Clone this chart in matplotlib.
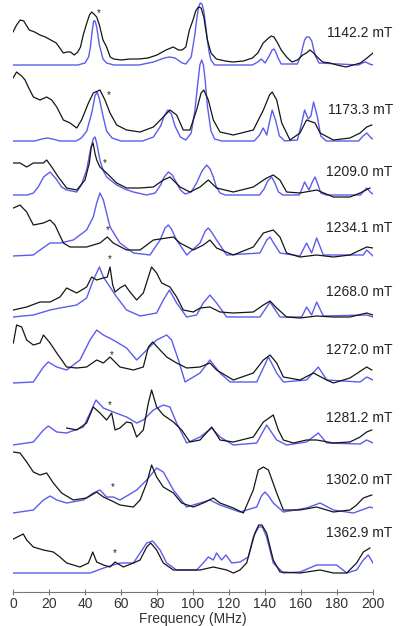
"""
Stacked ENDOR spectra: experiment (black) vs simulation (blue)
"""

import matplotlib.pyplot as plt

plt.rcParams['font.family'] = ['Liberation Sans', 'DejaVu Sans']

# magnetic fields (mT), top to bottom
fields = ['1142.2', '1173.3', '1209.0', '1234.1', '1268.0',
          '1272.0', '1281.2', '1302.0', '1362.9']

# (frequency MHz, intensity)
exp_1142 = [(0, 33), (2, 40), (4, 45), (6, 44), (9, 35), (12, 33), (15, 30), (18, 28), (21, 25),
            (24, 22), (26, 17), (28, 12), (30, 13), (32, 13), (34, 10), (36, 13), (37.5, 18),
            (39, 30), (41, 42), (42.5, 50), (43.7, 53), (45, 51), (46.5, 48), (48, 40), (50, 25),
            (52, 18), (54, 8), (56, 6), (60, 5), (65, 6), (70, 6), (75, 7), (80, 10), (85, 15),
            (89, 18), (92, 15), (94, 15), (96, 18), (98, 35), (100, 45), (101.5, 54), (103, 58),
            (104.5, 57), (106, 48), (108, 25), (110, 12), (113, 6), (118, 4), (122, 3), (128, 4),
            (133, 7), (136, 12), (139, 22), (142, 27), (143.5, 29), (145, 28), (147, 22), (149, 15),
            (152, 8), (155, 3), (158, 5), (161, 10), (163, 12), (165, 15), (167, 12), (169, 8),
            (172, 3), (176, 2), (180, 0), (185, -2), (189, 0), (193, 2), (196, 6), (200, 12)]
sim_1142 = [(0, 0), (36, 0), (40, 2), (42, 8), (43, 18), (44, 34), (44.8, 44), (45.6, 44),
            (46.5, 38), (48, 20), (50, 6), (52, 2), (56, 0), (70, 0), (78, 3), (84, 7), (87, 8),
            (90, 7), (94, 2), (96, 1), (99, 8), (101, 30), (102, 45), (103, 57), (104, 62),
            (105, 61), (106, 54), (107, 40), (108, 25), (109, 12), (110, 5), (112, 0), (133, 0),
            (136, 3), (138, 6), (140, 2), (142, 8), (144, 15), (145, 16), (146, 13), (147, 8),
            (149, 1), (158, 1), (160, 10), (161, 18), (162, 25), (163, 28), (164.5, 28),
            (166, 24), (167, 16), (168, 9), (170, 2), (192, 0), (194, 2), (196, 3), (198, 1),
            (200, 0)]

exp_1173 = [(0, 63), (2, 69), (4.8, 65), (6.7, 61), (8.5, 54), (11.3, 44), (15, 41), (18.7, 44),
            (21.5, 41), (24.3, 34), (28, 21), (31.7, 18), (35.4, 13), (38.1, 21), (41.9, 38),
            (44.6, 48), (48.3, 51), (51.1, 41), (53.9, 28), (57.6, 16), (63.1, 11), (70.6, 9),
            (78, 14), (83.5, 24), (87.2, 31), (90.9, 26), (94.6, 11), (98.3, 11), (102, 31),
            (104.5, 48), (106, 51), (108.5, 41), (111.3, 21), (115, 9), (122.4, 6), (133.5, 11),
            (139.1, 31), (142.5, 46), (144, 49), (146.5, 41), (149.3, 18), (153.9, 1), (159.4, 8),
            (163.1, 21), (167.8, 18), (170.6, 8), (178, 1), (187.2, 3), (192.8, 8), (196.5, 14),
            (199.3, 16)]
sim_1173 = [(0, 0), (12, 0), (16, 2), (19, 3), (22, 2), (26, 0), (35, 0), (38, 3), (41, 10),
            (44, 30), (45.5, 45), (46.8, 49), (48, 42), (50, 25), (52, 10), (55, 3), (60, 0),
            (72, 0), (78, 4), (82, 15), (84, 25), (86, 31), (88, 27), (90, 15), (93, 4), (96, 1),
            (99, 8), (101, 30), (102.5, 55), (103.8, 76), (104.8, 81), (105.8, 76), (106.8, 60),
            (108, 35), (110, 10), (112, 2), (116, 0), (134, 0), (137, 6), (139, 13), (141, 6),
            (142, 15), (144, 31), (146, 20), (148, 5), (151, 0), (158, 1), (160, 15), (162, 31),
            (164, 22), (165.5, 25), (167, 39), (169, 25), (171, 5), (174, 0), (192, 0),
            (194.5, 5), (196.5, 8), (199, 3), (200, 2)]

exp_1209 = [(0.2, 32), (3.9, 32), (7.6, 28), (11.3, 32), (16.9, 32), (18.7, 35), (21.5, 28),
            (25.2, 18), (29.8, 7), (35.4, 5), (40, 15), (42.4, 32), (43.5, 48), (44.5, 52),
            (45.5, 42), (46.5, 35), (48.3, 28), (52, 22), (57.6, 12), (63.1, 7), (70.6, 7),
            (78, 8), (83.5, 15), (87.2, 18), (92.8, 8), (98.3, 3), (103.9, 8), (108.5, 15),
            (113.1, 7), (122.4, 3), (133.5, 8), (140.9, 17), (144.6, 20), (148.3, 15), (152, 3),
            (159.4, 2), (168.7, 5), (178, -2), (187.2, -2), (192.8, 2), (198.3, 7)]
sim_1209 = [(0, 0), (8, 0), (11.3, 2), (14, 8), (17, 18), (20.6, 23), (24, 16), (27, 8),
            (29.8, 5), (35.4, 3), (38, 10), (40.9, 25), (43, 45), (44.5, 56), (45.6, 58),
            (46.5, 52), (48.3, 35), (50, 25), (52, 18), (57.6, 10), (62, 6), (66.9, 3), (74.3, 0),
            (79, 2), (82, 10), (84, 18), (86.3, 23), (88.5, 20), (90.9, 12), (93, 5), (95.6, 1),
            (99, 3), (102, 12), (105, 24), (107.6, 30), (109.5, 26), (111.3, 18), (113, 8),
            (115, 2), (118, 0), (137, 0), (139.5, 6), (141.5, 14), (143.7, 18), (145.5, 12),
            (147.5, 3), (150, 0), (159, 0), (160.5, 6), (162, 13), (163.5, 8), (164.5, 5),
            (166, 12), (167.8, 18), (169.5, 10), (171, 2), (174, 0), (193, 0), (195, 4),
            (196.5, 7), (198.5, 3), (200, 1)]

exp_1234 = [(0.2, 48), (3.9, 51), (7.6, 44), (11.3, 31), (16.9, 33), (20.6, 36), (23.3, 31),
            (28, 13), (31.7, 9), (40.9, 9), (48.3, 13), (52.4, 19), (55.7, 13), (63.1, 6),
            (70.6, 6), (78, 16), (85.4, 18), (89.1, 19), (92.8, 13), (100.2, 6), (105.7, 11),
            (109.4, 16), (113.1, 8), (122.4, 1), (133.5, 9), (139.1, 23), (144.6, 26), (148.3, 19),
            (152, 3), (159.4, -1), (168.7, 1), (178, -1), (187.2, 1), (196.5, 9), (200, 8)]
sim_1234 = [(0, 0), (11.3, 1), (15, 6), (20.6, 13), (26.1, 13), (33.5, 16), (40.9, 26),
            (44.6, 39), (46.5, 53), (48.3, 63), (50.2, 56), (53.9, 29), (59.4, 13), (66.9, 3),
            (76.1, 1), (81.7, 16), (84.5, 28), (86.3, 31), (88, 27), (90.9, 16), (96.5, 1),
            (103.9, 13), (106.8, 25), (108.5, 28), (110.3, 24), (113.1, 16), (118.7, 1),
            (137.2, 3), (141, 16), (142.8, 19), (144.8, 13), (148.3, 3), (159.4, 0), (163.1, 13),
            (165.9, 3), (168.7, 18), (172.4, 1), (194.6, 1), (196.5, 6), (200, 0)]

exp_1268 = [(0.2, 7), (7.6, 10), (15, 15), (20.6, 15), (26.1, 20), (29.8, 29), (35.4, 24),
            (40.9, 30), (43.7, 40), (46.5, 37), (50.2, 39), (52.4, 40), (53.9, 50), (55.4, 32),
            (56.7, 25), (59.4, 29), (62.2, 32), (65, 25), (68.7, 17), (72.4, 24), (75.2, 40),
            (77, 50), (79.8, 44), (82.6, 34), (87.2, 30), (90.9, 20), (94.6, 7), (100.2, 5),
            (103.9, 9), (109.4, 10), (115, 5), (122.4, 4), (133.5, 5), (139.1, 12), (142.8, 16),
            (146.5, 9), (152, 0), (159.4, -1), (168.7, 1), (178, 0), (187.2, 0), (196.5, 4),
            (200, 2)]
sim_1268 = [(0, 0), (11.3, 2), (20.6, 7), (26.1, 9), (35.4, 12), (40.9, 19), (44.6, 37), (48, 50),
            (50.2, 40), (53.9, 30), (57.6, 20), (63.1, 7), (70.6, 1), (79.8, 4), (83.5, 17),
            (86.9, 27), (90.9, 14), (96.5, 0), (102, 2), (105.7, 14), (109.4, 22), (113.1, 14),
            (118.7, 0), (137.2, 0), (142.8, 15), (148.3, 0), (160.4, 0), (163.1, 10), (165.9, 2),
            (168.7, 15), (172.4, 1), (196.5, 2), (200, 0)]

exp_1272 = [(0.2, 40), (2, 58), (4.8, 56), (7.6, 43), (11.3, 38), (15, 40), (16.9, 48), (20.6, 40),
            (24.3, 30), (29.8, 16), (35.4, 15), (40.9, 16), (46.5, 23), (50.2, 20), (53.9, 26),
            (59.4, 16), (66.9, 13), (72.4, 16), (75.2, 36), (77.6, 41), (81.7, 33), (85.4, 26),
            (90.9, 20), (96.5, 15), (103.9, 16), (109.4, 20), (113.1, 13), (122.4, 3), (133.5, 10),
            (139.1, 23), (142.8, 28), (146.5, 20), (150.2, 6), (159.4, 3), (166.9, 10),
            (174.3, 3), (178, 0), (187.2, 5), (196.5, 16), (199.3, 13)]
sim_1272 = [(0, 0), (11.3, 1), (16.9, 16), (19.6, 21), (24.3, 16), (29.8, 13), (37.2, 23),
            (42.8, 43), (46.5, 53), (50.2, 48), (55.7, 43), (63.1, 35), (68.7, 23), (74.3, 33),
            (79.8, 43), (85.4, 48), (88.1, 43), (91.9, 23), (95.6, 1), (103.9, 10), (109.4, 23),
            (115, 10), (120.6, 1), (135.4, 1), (141.9, 26), (146.5, 10), (150.2, 1), (163.1, 3),
            (169.6, 16), (174.3, 3), (192.8, 1), (196.5, 6), (200, 3)]

exp_1281 = [(29.8, 17), (35.4, 15), (40.9, 22), (44.6, 38), (48.3, 32), (52, 25), (54.8, 32),
            (56.7, 15), (59.4, 17), (63.1, 23), (65.9, 22), (68.7, 8), (72.4, 15), (75.2, 42),
            (77, 55), (79.8, 38), (83.5, 30), (89.1, 23), (93.7, 15), (98.3, 3), (103.9, 5),
            (110.4, 18), (115, 5), (122.4, 3), (133.5, 8), (139.1, 23), (144.6, 30), (147.4, 15),
            (150.2, 5), (155.7, 2), (163.1, 5), (168.7, 5), (178, 2), (187.2, 3), (192.8, 8),
            (196.5, 13), (199.3, 15)]
sim_1281 = [(0, 0), (11.3, 3), (16.9, 15), (19.6, 19), (24.3, 13), (29.8, 12), (39.1, 18),
            (42.8, 32), (46.1, 45), (50.2, 37), (55.7, 33), (63.1, 28), (68.7, 22), (72.4, 25),
            (78, 35), (83.5, 40), (87.2, 38), (90.9, 22), (96.5, 2), (103.9, 8), (110.4, 17),
            (115, 8), (122.4, 0), (135.4, 2), (140.9, 20), (146.5, 5), (152, 0), (163.1, 3),
            (169.6, 12), (174.3, 2), (192.8, 1), (196.5, 5), (200, 2)]

exp_1302 = [(0.2, 61), (3.9, 60), (7.6, 51), (11.3, 41), (15, 38), (18.7, 40), (22.4, 30),
            (27, 20), (33.5, 13), (40.9, 15), (46.5, 21), (50.2, 16), (53.9, 13), (59.4, 8),
            (66.9, 6), (70.6, 13), (74.3, 30), (77, 48), (79.8, 36), (83.5, 26), (89.1, 20),
            (93.7, 10), (100.2, 6), (105.7, 10), (111.3, 15), (115, 10), (122.4, 5), (128, 0),
            (133.5, 23), (136.3, 43), (139.1, 46), (141.9, 43), (146.5, 20), (150.2, 3),
            (159.4, 3), (168.7, 6), (178, 1), (187.2, 3), (190.9, 8), (194.6, 15), (199.3, 18)]
sim_1302 = [(0, 0), (11.3, 3), (16.9, 13), (20.6, 17), (24.3, 13), (29.8, 10), (39.1, 13),
            (44.6, 20), (48.3, 23), (52, 16), (55.7, 16), (59.4, 13), (64.1, 18), (68.7, 23),
            (74.3, 33), (79.8, 45), (83.5, 41), (89.1, 23), (96.5, 6), (103.9, 10), (109.4, 13),
            (115, 8), (126.1, 1), (135.4, 6), (138, 17), (140, 21), (142, 17), (144.6, 10),
            (150.2, 1), (163.1, 5), (170.6, 10), (178, 3), (189.1, 0), (198.3, 6), (200, 5)]

exp_1362 = [(0.2, 34), (5.7, 39), (7.6, 33), (11.3, 26), (16.9, 23), (22.4, 21), (26.1, 16),
            (29.8, 10), (37.2, 6), (41.9, 10), (44.3, 21), (46.5, 11), (50.2, 8), (53.9, 6),
            (56.7, 11), (61.3, 6), (66.9, 10), (70.6, 13), (74.3, 26), (76.5, 30), (79.8, 23),
            (83.5, 10), (89.1, 3), (96.5, 3), (103.9, 3), (111.3, 6), (118.7, 3), (122.4, 0),
            (126.1, 3), (129.8, 10), (134.4, 40), (136.5, 48), (138.3, 48), (140.9, 40),
            (144.6, 13), (148.3, 1), (159.4, 0), (170.6, 3), (178, 0), (185.4, 0), (190.9, 10),
            (194.6, 21), (198.3, 25)]
sim_1362 = [(0, 0), (42.8, 0), (52, 6), (59.4, 10), (66.9, 10), (70.6, 20), (74.3, 30),
            (77.6, 32), (81.7, 23), (85.4, 10), (90.9, 3), (102, 3), (105.7, 10), (108.5, 16),
            (111.3, 13), (113.1, 20), (115.9, 13), (118.3, 18), (121.5, 10), (126.1, 11),
            (130.7, 16), (133.5, 36), (136.5, 46), (138.5, 46), (140.9, 36), (144.6, 10),
            (150.2, 0), (159.4, 1), (168.7, 8), (179.8, 8), (185.4, 0), (190.9, 3), (194.6, 13),
            (197.4, 18), (200, 10)]

experiments = [exp_1142, exp_1173, exp_1209, exp_1234, exp_1268,
               exp_1272, exp_1281, exp_1302, exp_1362]
simulations = [sim_1142, sim_1173, sim_1209, sim_1234, sim_1268,
               sim_1272, sim_1281, sim_1302, sim_1362]

# asterisk positions (frequency, height in plot units)
star_freq = [47.4, 53, 51.1, 52.4, 53.9, 54.8, 53.9, 55.4, 56.7]
star_height = [579, 497, 429, 362, 333, 237, 187, 105, 39]

# vertical stacking of the traces and their labels
offsets = [527, 451, 397, 336, 275, 209, 147, 79, 19]
label_gap = [32, 31, 23, 28, 25, 33, 27, 33, 40]

fig = plt.figure(figsize=(4, 6.26), dpi=100)
ax = fig.add_axes([13 / 400, 34 / 626, 360 / 400, 592 / 626])

for field, exp, sim, off, gap in zip(fields, experiments, simulations, offsets, label_gap):
    sx = [p[0] for p in sim]
    sy = [p[1] + off for p in sim]
    ex = [p[0] for p in exp]
    ey = [p[1] + off for p in exp]
    ax.plot(sx, sy, color='#5c5cee', lw=1.0, solid_joinstyle='round')
    ax.plot(ex, ey, color='#151515', lw=0.9, solid_joinstyle='round')
    ax.text(211, off + gap, field + ' mT', ha='right', va='center',
            fontsize=10, color='#222222', clip_on=False)

for f, h in zip(star_freq, star_height):
    ax.text(f, h, '*', ha='center', va='center', fontsize=7, color='#222222')

ax.set_xlim(0, 200)
ax.set_ylim(0, 592)
for side in ['left', 'right', 'top']:
    ax.spines[side].set_visible(False)
ax.spines['bottom'].set_color('#777777')
ax.set_yticks([])
ax.set_xticks(range(0, 201, 20))
ax.tick_params(axis='x', direction='inout', length=5, color='#777777',
               labelsize=10, labelcolor='#333333', pad=1)
ax.set_xlabel('Frequency (MHz)', fontsize=10, color='#333333', labelpad=1)
ax.patch.set_visible(False)

fig.savefig('out.png', dpi=100)
